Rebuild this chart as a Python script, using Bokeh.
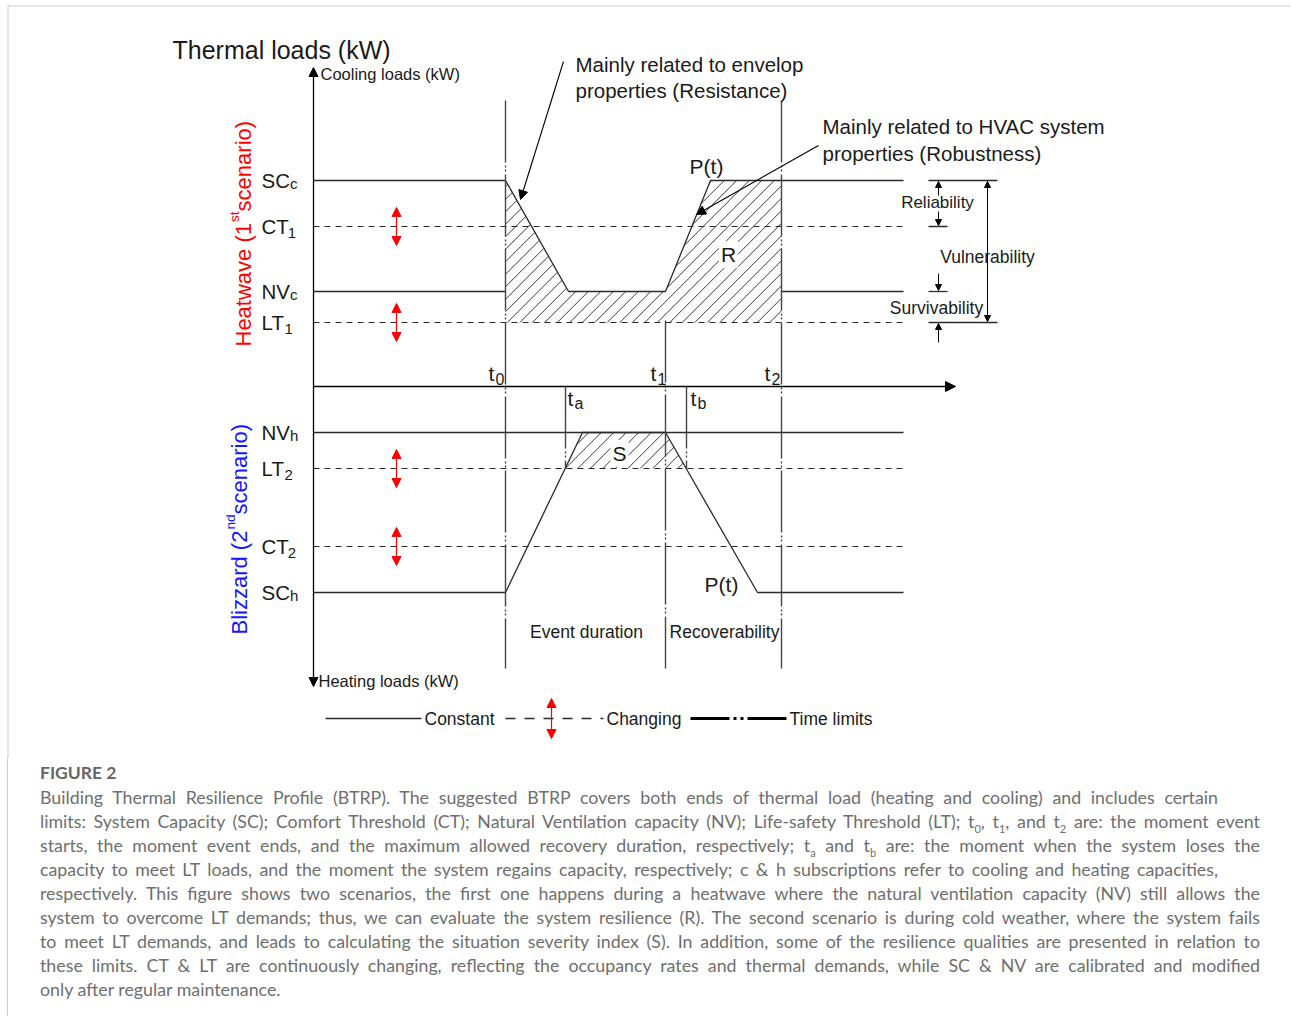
import math
from bokeh.plotting import figure
from bokeh.models import Range1d, Arrow, NormalHead, Div
from bokeh.layouts import column
from bokeh.core.properties import value
from bokeh.embed import file_html
from bokeh.resources import INLINE

# ------------------------------------------------------------------ data
# time instants (horizontal positions on the schematic time axis)
time_names = ["t", "t", "t", "t", "t"]
time_subs = ["0", "a", "1", "b", "2"]
time_x = [505, 565, 665, 686, 781]          # t0, ta, t1, tb, t2
T0, TA, T1, TB, T2 = time_x

# load levels (vertical positions; cooling above the time axis, heating below)
level_names = ["SC", "CT", "NV", "LT", "NV", "LT", "CT", "SC"]
level_subs = ["c", "1", "c", "1", "h", "2", "2", "h"]
level_y = [180, 226, 291, 322, 432, 468, 546, 592]
level_dashed = [False, True, False, True, False, True, True, False]
SCc, CT1, NVc, LT1, NVh, LT2, CT2, SCh = level_y

axis_x = 313
time_axis_y = 386
line_end = 903

# performance curves P(t)
heat_profile_x = [T0, 568, T1, 710, T2]
heat_profile_y = [SCc, NVc, NVc, SCc, SCc]
cold_profile_x = [T0, 582, T1, 757, line_end]
cold_profile_y = [SCh, NVh, NVh, SCh, SCh]

# solid level segments (gaps where P(t) takes over)
solid_segments = {
    SCc: [(axis_x, T0), (T2, line_end)],
    NVc: [(axis_x, T0), (T2, line_end)],
    NVh: [(axis_x, line_end)],
    SCh: [(axis_x, T0)],
}

# time-limit line vertical extents
time_top = [100, time_axis_y, 320, time_axis_y, 100]
time_bottom = [668, LT2, 668, LT2, 668]

# changing thresholds marked with red double arrows
changing_levels = [CT1, LT1, LT2, CT2]
changing_x = 396

caption_lines = [
    "Building Thermal Resilience Profile (BTRP). The suggested BTRP covers both ends of thermal load (heating and cooling) and includes certain",
    "limits: System Capacity (SC); Comfort Threshold (CT); Natural Ventilation capacity (NV); Life-safety Threshold (LT); t<sub>0</sub>, t<sub>1</sub>, and t<sub>2</sub> are: the moment event",
    "starts, the moment event ends, and the maximum allowed recovery duration, respectively; t<sub>a</sub> and t<sub>b</sub> are: the moment when the system loses the",
    "capacity to meet LT loads, and the moment the system regains capacity, respectively; c &amp; h subscriptions refer to cooling and heating capacities,",
    "respectively. This figure shows two scenarios, the first one happens during a heatwave where the natural ventilation capacity (NV) still allows the",
    "system to overcome LT demands; thus, we can evaluate the system resilience (R). The second scenario is during cold weather, where the system fails",
    "to meet LT demands, and leads to calculating the situation severity index (S). In addition, some of the resilience qualities are presented in relation to",
    "these limits. CT &amp; LT are continuously changing, reflecting the occupancy rates and thermal demands, while SC &amp; NV are calibrated and modified",
    "only after regular maintenance.",
]
caption_widths = [1178, 1220, 1220, 1178, 1220, 1220, 1220, 1220, None]

# ------------------------------------------------------------------ figure
W, H = 1290, 758
p = figure(width=W, height=H, x_range=Range1d(0, W), y_range=Range1d(H, 0),
           output_backend="svg", toolbar_location=None, min_border=0,
           x_axis_type=None, y_axis_type=None)
p.grid.visible = False
p.outline_line_color = None
p.background_fill_color = "white"

FONT = "Liberation Sans"
INK = "#1a1a1a"
LINE = "#2a2a2a"


def txt(x, y, s, size, align="left", baseline="middle", color=INK, angle=0.0,
        font=FONT, style="normal", bg=None):
    kw = {}
    if bg:
        kw = dict(background_fill_color=bg, padding=2)
    p.text(x=[x], y=[y], text=[s], text_font=value(font), text_font_size=f"{size}px",
           text_align=align, text_baseline=baseline, text_color=color, angle=angle,
           text_font_style=style, **kw)


def arrow(x0, y0, x1, y1, color="black", size=9, both=False, width=1.0):
    head = dict(size=size, fill_color=color, line_color=color, line_width=1)
    p.add_layout(Arrow(end=NormalHead(**head), start=NormalHead(**head) if both else None,
                       x_start=x0, y_start=y0, x_end=x1, y_end=y1,
                       line_color=color, line_width=width))


def hatch(px, py, step=12.5):
    """45-degree '/' hatch lines clipped to a polygon (screen y points down)."""
    n = len(px)
    sums = [a + b for a, b in zip(px, py)]
    c = min(sums) + step / 2
    x0s, y0s, x1s, y1s = [], [], [], []
    while c < max(sums):
        pts = []
        for i in range(n):
            xa, ya, xb, yb = px[i], py[i], px[(i + 1) % n], py[(i + 1) % n]
            sa, sb = xa + ya - c, xb + yb - c
            if (sa > 0) != (sb > 0):
                t = sa / (sa - sb)
                pts.append(xa + t * (xb - xa))
        pts.sort()
        for k in range(0, len(pts) - 1, 2):
            x0s.append(pts[k]); y0s.append(c - pts[k])
            x1s.append(pts[k + 1]); y1s.append(c - pts[k + 1])
        c += step
    p.segment(x0=x0s, y0=y0s, x1=x1s, y1=y1s, line_color="#222222", line_width=0.9)


# frame borders
p.segment(x0=[7.5, 7], y0=[5, 5.5], x1=[7.5, W], y1=[H, 5.5],
          line_color="#cccccc", line_width=1)

# hatched areas: resilience R (heatwave) and severity S (blizzard)
hatch(heat_profile_x + [T2, T0], heat_profile_y + [LT1, LT1])
hatch([TA, cold_profile_x[1], cold_profile_x[2], TB], [LT2, NVh, NVh, LT2])

# level lines
for ly, dashed in zip(level_y, level_dashed):
    if dashed:
        p.line(x=[axis_x, line_end], y=[ly, ly], line_color=LINE, line_width=1.2,
               line_dash="6 5")
    else:
        for a, b in solid_segments[ly]:
            p.line(x=[a, b], y=[ly, ly], line_color=LINE, line_width=1.3)

# performance curves
p.line(x=heat_profile_x, y=heat_profile_y, line_color=LINE, line_width=1.3)
p.line(x=cold_profile_x, y=cold_profile_y, line_color=LINE, line_width=1.3)

# time-limit lines
for tx, a, b in zip(time_x, time_top, time_bottom):
    p.line(x=[tx, tx], y=[a, b], line_color="#444444", line_width=1.4,
           line_dash="62 3 2 2 2 3")

# axes
arrow(axis_x, 686, axis_x, 67, both=True, size=9, width=1.3)
arrow(axis_x, time_axis_y, 955, time_axis_y, size=10, width=1.3)

# red double arrows for changing thresholds
for ly in changing_levels:
    arrow(changing_x, ly + 19, changing_x, ly - 19, color="#ff0000", size=9, both=True, width=1.2)

# level labels with subscripts
cap_w = {"S": 0.667, "C": 0.722, "N": 0.722, "V": 0.667, "L": 0.556, "T": 0.611}
for name, sub, ly in zip(level_names, level_subs, level_y):
    x0 = 261
    txt(x0, ly, name, 20.5)
    wname = sum(cap_w[c] for c in name) * 20.5
    if sub.isdigit():
        txt(x0 + wname - 1, ly + 6, sub, 15)
    else:
        txt(x0 + wname, ly + 3, sub, 15)

# time labels
time_label_y = [373, 398, 373, 398, 373]
time_label_dx = [-17, 2, -15, 4, -17]
for tx, name, sub, ty, dx in zip(time_x, time_names, time_subs, time_label_y, time_label_dx):
    txt(tx + dx, ty, name, 21)
    txt(tx + dx + 7, ty + 5, sub, 16)

# titles
txt(172, 49, "Thermal loads (kW)", 25)
txt(320, 73, "Cooling loads (kW)", 16.5)
txt(318, 680, "Heating loads (kW)", 16.5)

# rotated scenario labels
ang = math.pi / 2


def rotated_with_sup(xb, y0, pre, sup, post, color, size=22):
    w_pre = {"Heatwave (1": 5.613, "Blizzard (2": 4.723}[pre] * size
    w_sup = {"st": 0.778, "nd": 1.112}[sup] * size * 0.62
    txt(xb, y0, pre, size, baseline="alphabetic", color=color, angle=ang)
    txt(xb - 9, y0 - w_pre - 1, sup, size * 0.62, baseline="alphabetic", color=color, angle=ang)
    txt(xb, y0 - w_pre - w_sup - 1, post, size, baseline="alphabetic", color=color, angle=ang)


rotated_with_sup(243, 346, "Heatwave (1", "st", " scenario)", "#ff0000")
rotated_with_sup(239, 634, "Blizzard (2", "nd", " scenario)", "#1515ff")

# annotation texts & arrows
txt(575, 64, "Mainly related to envelop", 20.5)
txt(575, 90, "properties (Resistance)", 20.5)
arrow(563, 61, 520, 199, size=9, width=1.1)
txt(822, 126, "Mainly related to HVAC system", 20.5)
txt(822, 153, "properties (Robustness)", 20.5)
arrow(818, 145, 696, 214, size=9, width=1.1)

txt(706, 166, "P(t)", 21, align="center")
txt(728, 254, "R", 21, align="center", bg="white")
txt(619, 453, "S", 21, align="center", bg="white")
txt(721, 584, "P(t)", 21, align="center")
txt(586, 631, "Event duration", 17.5, align="center")
txt(724, 631, "Recoverability", 17.5, align="center")

# resilience qualities bracket
p.segment(x0=[928, 928, 928, 928], y0=[SCc, CT1, NVc, LT1],
          x1=[997, 947, 947, 997], y1=[SCc, CT1, NVc, LT1], line_color=LINE, line_width=1.3)
arrow(938, 195, 938, SCc + 1, size=6)
arrow(938, 211, 938, CT1 - 1, size=6)
arrow(938, 273, 938, NVc - 1, size=6)
arrow(938, 342, 938, LT1 + 1, size=6)
arrow(987, SCc + 1, 987, LT1 - 1, size=6, both=True)
txt(937, 202, "Reliability", 17, align="center")
txt(987, 256, "Vulnerability", 17.5, align="center")
txt(936, 307, "Survivability", 17.5, align="center")

# legend
ly = 718
p.line(x=[325, 421], y=[ly, ly], line_color=LINE, line_width=1.3)
txt(424, ly, "Constant", 17.5)
p.line(x=[505, 603], y=[ly, ly], line_color=LINE, line_width=1.3, line_dash="10 9")
arrow(551, ly + 20, 551, ly - 20, color="#ff0000", size=9, both=True, width=1.2)
txt(606, ly, "Changing", 17.5)
p.line(x=[690, 787], y=[ly, ly], line_color="black", line_width=3,
       line_dash="39 4 3 4 3 4")
txt(789, ly, "Time limits", 17.5)

# ------------------------------------------------------------------ caption
rows = ['<div style="font-family:Lato, sans-serif; font-weight:bold; font-size:17.5px; '
        'line-height:24px; color:#666;">FIGURE 2</div>']
for line, w in zip(caption_lines, caption_widths):
    if w is None:
        rows.append(f'<div style="white-space:nowrap; line-height:24px;">{line}</div>')
    else:
        rows.append(f'<div style="width:{w}px; white-space:nowrap; text-align:justify; '
                    f'text-align-last:justify; line-height:24px;">{line}</div>')
html = ('<div style="border-left:1px solid #cccccc; margin-left:7px; padding-left:32px; '
        'padding-top:3px; height:258px; font-family:Lato, sans-serif; font-size:17.8px; '
        'color:#6e6e6e;">'
        + "".join(rows).replace("<sub>", '<sub style="font-size:11px; line-height:0;">')
        + '</div>')
cap = Div(text=html, width=W, height=264, margin=(0, 0, 0, 0))

layout = column(p, cap, spacing=0)
open("out.html", "w").write(file_html(layout, INLINE))
